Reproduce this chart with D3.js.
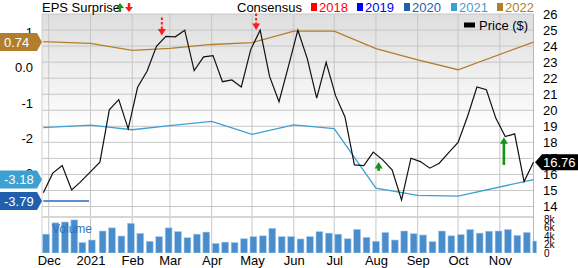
<!DOCTYPE html>
<html>
<head>
<meta charset="utf-8">
<script src="https://cdn.jsdelivr.net/npm/d3@7"></script>
<style>
  body { margin: 0; background: #fff; }
  svg { display: block; font-family: 'Liberation Sans', Arial, sans-serif; }
</style>
</head>
<body>
<svg id="chart" width="578" height="268"></svg>
<script>
// weekly price data (Fridays)
const priceDates = ['2020-11-27','2020-12-04','2020-12-11','2020-12-18','2020-12-24','2020-12-31',
  '2021-01-08','2021-01-15','2021-01-22','2021-01-29','2021-02-05','2021-02-12','2021-02-19','2021-02-26',
  '2021-03-05','2021-03-12','2021-03-19','2021-03-26','2021-04-02','2021-04-09','2021-04-16','2021-04-23',
  '2021-04-30','2021-05-07','2021-05-14','2021-05-21','2021-05-28','2021-06-04','2021-06-11','2021-06-18',
  '2021-06-25','2021-07-02','2021-07-09','2021-07-16','2021-07-23','2021-07-30','2021-08-06','2021-08-13',
  '2021-08-20','2021-08-27','2021-09-03','2021-09-10','2021-09-17','2021-09-24','2021-10-01','2021-10-08',
  '2021-10-15','2021-10-22','2021-10-29','2021-11-05','2021-11-12','2021-11-19','2021-11-26'];
const prices = [14.86, 16.08, 16.55, 15.03, 15.49, 16.08, 16.76, 20.03, 20.66, 18.84, 21.43, 22.43, 23.99, 24.61,
  24.58, 24.99, 22.47, 23.33, 23.41, 21.78, 21.89, 21.45, 23.78, 24.99, 22.11, 20.53, 22.74, 24.99, 23.22,
  20.76, 22.99, 20.91, 19.58, 16.59, 16.55, 17.39, 16.91, 16.28, 14.41, 17.01, 16.80, 16.39, 16.70, 17.36,
  17.99, 19.61, 21.45, 21.28, 19.51, 18.36, 18.53, 15.55, 16.76];
// volume in thousands
const volumes = [4.5, 7.2, 7.4, 7.9, 2.5, 3.1, 5.25, 6.0, 4.05, 7.1, 4.7, 2.8, 3.9, 6.0, 5.1, 3.65, 4.5, 5.0,
  2.3, 2.6, 2.5, 3.4, 3.9, 4.1, 5.9, 3.9, 3.9, 3.35, 3.9, 5.1, 4.75, 4.5, 3.4, 5.65, 3.75, 2.8, 4.9, 3.1,
  5.25, 4.6, 4.3, 2.7, 5.25, 4.1, 4.4, 5.6, 4.75, 5.2, 5.25, 5.6, 4.2, 4.9, 2.85];

// consensus EPS estimates
const consDates = ['2020-11-27','2021-01-01','2021-02-01','2021-03-01','2021-04-01','2021-05-01','2021-06-01',
  '2021-07-01','2021-08-01','2021-09-01','2021-10-01','2021-11-26'];
const cons2022 = [0.75, 0.70, 0.50, 0.56, 0.67, 0.72, 1.05, 1.05, 0.55, 0.23, -0.05, 0.74];
const cons2021 = [-1.70, -1.63, -1.76, -1.64, -1.52, -1.89, -1.62, -1.73, -3.42, -3.63, -3.65, -3.18];
const cons2020Dates = ['2020-11-27','2020-12-31'];
const cons2020 = [-3.79, -3.79];

const legendYears = ['2018','2019','2020','2021','2022'];
const legendColors = ['#ff0000','#0000ff','#1f5fae','#3ea0d1','#b27e2c'];

// EPS surprise arrows: date, direction, price at base and tip
const surpriseDates = ['2021-02-23','2021-05-04','2021-08-03','2021-11-04'];
const surpriseDir = ['down','down','up','up'];
const surpriseBase = [25.78, 26.03, 16.22, 16.59];
const surpriseTip = [24.66, 25.0, 16.78, 18.31];

const monthTicks = ['2020-12-01','2021-01-01','2021-02-01','2021-03-01','2021-04-01','2021-05-01','2021-06-01',
  '2021-07-01','2021-08-01','2021-09-01','2021-10-01','2021-11-01'];
const monthLabels = ['Dec','2021','Feb','Mar','Apr','May','Jun','Jul','Aug','Sep','Oct','Nov'];
const priceTicks = [14,15,16,17,18,19,20,21,22,23,24,25,26];
const epsTicks = [1, 0, -1, -2, -3];
const epsTickLabels = ['1','0.0','-1','-2','-3'];
const volTicks = [0, 2, 4, 6, 8];
const volTickLabels = ['0','2k','4k','6k','8k'];
const lastPrice = 16.76;

const parse = d3.timeParse('%Y-%m-%d');
const plotLeft = 42, plotRight = 533.5, plotTop = 14, priceBottom = 206.5, volTop = 217, volBottom = 253;

const x = d3.scaleTime().domain([parse('2020-11-26'), parse('2021-11-26')]).range([plotLeft, plotRight]);
const yPrice = d3.scaleLinear().domain([14, 26]).range([priceBottom, plotTop]);
const yEps = d3.scaleLinear().domain([-3.946, 1.524]).range([206.5, 14.5]);
const yVol = d3.scaleLinear().domain([0, 8]).range([volBottom, 219.5]);

const svg = d3.select('#chart');
const defs = svg.append('defs');
const grad = defs.append('linearGradient').attr('id', 'bg').attr('x1', 0).attr('y1', 0).attr('x2', 0).attr('y2', 1);
grad.append('stop').attr('offset', '0%').attr('stop-color', '#dedede');
grad.append('stop').attr('offset', '60%').attr('stop-color', '#ffffff');
defs.append('clipPath').attr('id', 'clip').append('rect')
  .attr('x', plotLeft).attr('y', volTop).attr('width', plotRight - plotLeft + 3).attr('height', volBottom - volTop);

// price panel background
svg.append('rect').attr('x', plotLeft).attr('y', plotTop).attr('width', plotRight - plotLeft)
  .attr('height', priceBottom - plotTop).attr('fill', 'url(#bg)');

// horizontal grid
svg.append('g').selectAll('line').data(priceTicks).join('line')
  .attr('x1', plotLeft).attr('x2', plotRight)
  .attr('y1', d => yPrice(d)).attr('y2', d => yPrice(d))
  .attr('stroke', '#c6c6c6').attr('stroke-width', 1);

// vertical grid
svg.append('g').selectAll('line').data(monthTicks).join('line')
  .attr('x1', d => x(parse(d))).attr('x2', d => x(parse(d)))
  .attr('y1', plotTop).attr('y2', volBottom)
  .attr('stroke', '#c6c6c6').attr('stroke-width', 1);

// volume panel separator
svg.append('line').attr('x1', plotLeft).attr('x2', plotRight).attr('y1', volTop).attr('y2', volTop)
  .attr('stroke', '#d6d6d6').attr('stroke-width', 2);

// borders
svg.append('line').attr('x1', plotLeft).attr('x2', plotLeft).attr('y1', plotTop).attr('y2', volBottom)
  .attr('stroke', '#d0d0d0');
svg.append('line').attr('x1', plotRight).attr('x2', plotRight).attr('y1', plotTop).attr('y2', volBottom)
  .attr('stroke', '#b8b8b8');

// volume bars
svg.append('g').attr('clip-path', 'url(#clip)').selectAll('rect').data(volumes).join('rect')
  .attr('x', (d, i) => x(parse(priceDates[i])) - 0.7)
  .attr('y', d => yVol(d))
  .attr('width', 6.8)
  .attr('height', d => volBottom - yVol(d))
  .attr('fill', '#4a8dcd').attr('stroke', '#a8cbeb').attr('stroke-width', 0.6);

svg.append('text').attr('x', 52).attr('y', 233).attr('font-size', 12)
  .attr('fill', '#2f73b8').text('Volume');

// consensus lines
const epsLine = (dates, vals, color, w) => {
  svg.append('path')
    .datum(vals.map((v, i) => [parse(dates[i]), v]))
    .attr('d', d3.line().x(d => x(d[0])).y(d => yEps(d[1])))
    .attr('fill', 'none').attr('stroke', color).attr('stroke-width', w);
};
epsLine(consDates, cons2022, legendColors[4], 1.3);
epsLine(consDates, cons2021, legendColors[3], 1.3);
epsLine(cons2020Dates, cons2020, '#5a90cf', 2);

// price line
svg.append('path')
  .datum(prices.map((p, i) => [parse(priceDates[i]), p]))
  .attr('d', d3.line().x(d => x(d[0])).y(d => yPrice(d[1])))
  .attr('fill', 'none').attr('stroke', '#111').attr('stroke-width', 1.2);

// surprise arrows
surpriseDates.forEach((d, i) => {
  const ax = x(parse(d));
  const yb = yPrice(surpriseBase[i]);
  const yt = yPrice(surpriseTip[i]);
  const down = surpriseDir[i] === 'down';
  const color = down ? '#ff1a1a' : '#149414';
  const head = 6.5;
  const shaftEnd = down ? yt - head + 1 : yt + head - 1;
  svg.append('line').attr('x1', ax).attr('x2', ax).attr('y1', yb).attr('y2', shaftEnd)
    .attr('stroke', color).attr('stroke-width', down ? 2 : 2.6)
    .attr('stroke-dasharray', down ? '2.5,2' : null);
  const hy = down ? yt - head : yt + head;
  svg.append('path')
    .attr('d', `M${ax - 4},${hy}L${ax + 4},${hy}L${ax},${yt}Z`)
    .attr('fill', color);
});

// right price axis labels
svg.append('g').selectAll('text').data(priceTicks).join('text')
  .attr('x', 543).attr('y', d => yPrice(d) + 4.5)
  .attr('font-size', 13).attr('fill', '#000').text(d => d);

// volume axis labels
svg.append('g').selectAll('text').data(volTicks).join('text')
  .attr('x', 544).attr('y', d => yVol(d) + 3.5)
  .attr('font-size', 10).attr('fill', '#000').text((d, i) => volTickLabels[i]);

// left eps axis labels
svg.append('g').selectAll('text').data(epsTicks).join('text')
  .attr('x', 33).attr('y', d => yEps(d) + 4.5).attr('text-anchor', 'end')
  .attr('font-size', 13).attr('fill', '#000').text((d, i) => epsTickLabels[i]);

// x axis labels
const xAxis = d3.axisBottom(x)
  .tickValues(monthTicks.map(parse))
  .tickFormat((d, i) => monthLabels[i])
  .tickSize(0).tickPadding(0);
const gx = svg.append('g').attr('transform', `translate(0,${volBottom + 3})`).call(xAxis);
gx.select('.domain').remove();
gx.selectAll('text').attr('font-size', 13).attr('fill', '#000')
  .attr('font-family', "'Liberation Sans', Arial, sans-serif");

// left value tags
const tag = (val, color, label) => {
  const cy = yEps(val);
  svg.append('path')
    .attr('d', `M0,${cy - 9}L37,${cy - 9}L42,${cy}L37,${cy + 9}L0,${cy + 9}Z`)
    .attr('fill', color);
  svg.append('text').attr('x', 4).attr('y', cy + 4.5).attr('font-size', 13)
    .attr('fill', '#fff').text(label);
};
tag(cons2022[cons2022.length - 1], legendColors[4], '0.74');
tag(cons2021[cons2021.length - 1], legendColors[3], '-3.18');
tag(cons2020[cons2020.length - 1], legendColors[2], '-3.79');

// last price tag on right
const py = yPrice(lastPrice);
svg.append('path')
  .attr('d', `M535,${py}L542,${py - 8}L578,${py - 8}L578,${py + 8}L542,${py + 8}Z`)
  .attr('fill', '#000');
svg.append('text').attr('x', 543).attr('y', py + 4.5).attr('font-size', 13)
  .attr('fill', '#fff').text(lastPrice.toFixed(2));

// header legend
svg.append('text').attr('x', 42).attr('y', 12).attr('font-size', 13).attr('fill', '#000').text('EPS Surprise');
svg.append('path').attr('d', 'M116,8L120,3L124,8L121.2,8L121.2,12L118.8,12L118.8,8Z').attr('fill', '#149414');
svg.append('path').attr('d', 'M125,7L129,12L133,7L130.2,7L130.2,3L127.8,3L127.8,7Z').attr('fill', '#ff1a1a');

svg.append('text').attr('x', 237).attr('y', 12).attr('font-size', 13).attr('fill', '#000').text('Consensus');
const lx = [311, 357, 404, 451, 497];
legendYears.forEach((yr, i) => {
  svg.append('rect').attr('x', lx[i]).attr('y', 3).attr('width', 6).attr('height', 8).attr('fill', legendColors[i]);
  svg.append('text').attr('x', lx[i] + 8).attr('y', 12).attr('font-size', 13)
    .attr('fill', legendColors[i]).text(yr);
});

// price legend
svg.append('rect').attr('x', 464).attr('y', 22.5).attr('width', 11).attr('height', 5).attr('fill', '#000');
svg.append('text').attr('x', 479).attr('y', 29.5).attr('font-size', 13).attr('fill', '#000').text('Price ($)');
</script>
</body>
</html>
